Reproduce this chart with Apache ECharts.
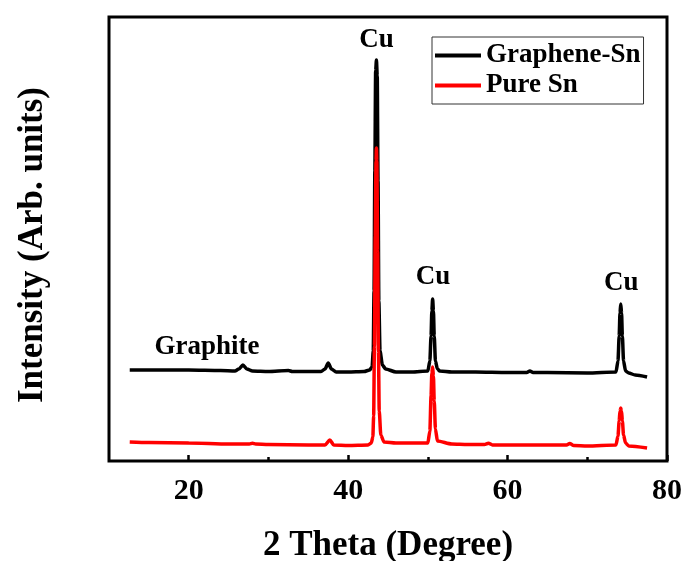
<!DOCTYPE html>
<html>
<head>
<meta charset="utf-8">
<script src="https://cdn.jsdelivr.net/npm/echarts@6/dist/echarts.min.js"></script>
<style>html,body{margin:0;padding:0;background:#fff;}#c{width:685px;height:561px;}</style>
</head>
<body>
<div id="c"></div>
<script>
// X-ray diffraction data (2θ in degrees, intensity in arbitrary units)
var grapheneX = [12.6,15,20,24,25.8,26.3,26.8,27.3,28,30,32.5,33,35,36.6,37.1,37.5,37.9,38.5,40,42,42.7,43.0,43.15,43.25,43.35,43.45,43.55,43.65,43.75,43.85,44.0,44.3,44.7,46,48,50.0,50.25,50.4,50.5,50.6,50.7,50.8,50.95,51.2,51.5,53,56,60,62.4,62.8,63.2,65,70,73.6,73.85,74.0,74.1,74.2,74.3,74.4,74.55,74.8,75.2,76,77.5];
var grapheneY = [91,91,91,90.5,90,92,96,92,90,89.5,90.5,89.5,89.5,89.5,92,98,92,89,89,89.5,91,94,110,170,290,390,401,385,280,160,110,96,92,89,89,90,100,125,150,162,150,125,100,92,90,89,89,88.5,88.5,90,88.5,88.5,88,89,100,125,148,157,148,125,100,90,88,86,84];
var pureX = [12.6,15,20,25,27.6,28,28.4,30,35,37.1,37.7,38.2,40,42.5,42.9,43.1,43.2,43.3,43.4,43.5,43.55,43.6,43.7,43.8,43.9,44.1,44.5,46,50.0,50.25,50.4,50.5,50.6,50.7,50.8,50.95,51.2,53,55,57.1,57.6,58.1,62,67.4,67.8,68.3,70,73.6,73.85,74.0,74.1,74.2,74.3,74.4,74.55,74.8,75.2,77.5];
var pureY = [19,18.5,18,17,17,17.8,17,16.5,16,16,21,16,15.5,16,18,24,45,115,225,300,313,300,210,110,50,26,19,18,18,30,65,88,94,85,60,32,20,17,16.5,16.5,17.8,16,16,16,17.5,15.5,15,16,25,40,50,53,50,40,26,18,15,13];
var xTickLabels = [20,40,60,80];
var xMinorTicks = [30,50,70];
var annotX = [43.55,50.65,74.25,22.3];
var annotY = [421,184,178,114];
var annotText = ['Cu','Cu','Cu','Graphite'];
var seriesNames = ['Graphene-Sn','Pure Sn'];

function pairs(xs, ys){ var out=[]; for(var i=0;i<xs.length;i++){out.push([xs[i],ys[i]]);} return out; }
var annotData = [];
for (var i=0;i<annotX.length;i++){ annotData.push({value:[annotX[i],annotY[i]], name:annotText[i]}); }

var FONT = '"Liberation Serif","Times New Roman",serif';
var chart = echarts.init(document.getElementById('c'), null, {renderer:'canvas'});
chart.setOption({
  animation:false,
  backgroundColor:'#fff',
  grid:{left:109,right:18,top:17,bottom:100,show:true,borderColor:'#000',borderWidth:3,backgroundColor:'transparent',
        containLabel:false, outerBoundsMode:'none'},
  legend:{
    data:seriesNames, orient:'vertical', left:432, top:37,
    borderColor:'#333', borderWidth:1, padding:[5,3,5,3], itemGap:3,
    itemWidth:46, itemHeight:4, icon:'rect',
    textStyle:{fontFamily:FONT,fontWeight:'bold',fontSize:27,color:'#000'}
  },
  xAxis:[{
    type:'value', min:10, max:80, position:'bottom',
    axisLine:{show:false}, splitLine:{show:false},
    axisTick:{show:true, inside:true, length:6, customValues:xTickLabels, lineStyle:{color:'#000',width:2.5}},
    axisLabel:{show:true, customValues:xTickLabels, margin:15, fontFamily:FONT, fontWeight:'bold', fontSize:30, color:'#000'},
    name:'2 Theta (Degree)', nameLocation:'middle', nameGap:67,
    nameTextStyle:{fontFamily:FONT,fontWeight:'bold',fontSize:35,color:'#000'}
  },{
    type:'value', min:10, max:80, position:'bottom',
    axisLine:{show:false}, splitLine:{show:false}, axisLabel:{show:false},
    axisTick:{show:true, inside:true, length:4, customValues:xMinorTicks, lineStyle:{color:'#000',width:2.5}}
  }],
  yAxis:{
    type:'value', min:0, max:444,
    axisLine:{show:false}, axisTick:{show:false}, axisLabel:{show:false}, splitLine:{show:false},
    name:'Intensity (Arb. units)', nameLocation:'middle', nameGap:59, nameRotate:90,
    nameTextStyle:{fontFamily:FONT,fontWeight:'bold',fontSize:35,color:'#000',padding:[0,12,0,0]}
  },
  series:[
    {name:seriesNames[0], type:'line', data:pairs(grapheneX,grapheneY), showSymbol:false, symbol:'none',
     smooth:0.25, smoothMonotone:'x', lineStyle:{color:'#000',width:3.5}, itemStyle:{color:'#000'}},
    {name:seriesNames[1], type:'line', data:pairs(pureX,pureY), showSymbol:false, symbol:'none',
     smooth:0.25, smoothMonotone:'x', lineStyle:{color:'#ff0000',width:3.5}, itemStyle:{color:'#ff0000'}},
    {name:'annot', type:'scatter', data:annotData, symbolSize:0, silent:true,
     itemStyle:{opacity:1, color:'#000'},
     label:{show:true, position:'inside', formatter:function(p){return p.name;},
            fontFamily:FONT, fontWeight:'bold', fontSize:27, color:'#000', textBorderWidth:0, opacity:1}}
  ]
});
</script>
</body>
</html>
